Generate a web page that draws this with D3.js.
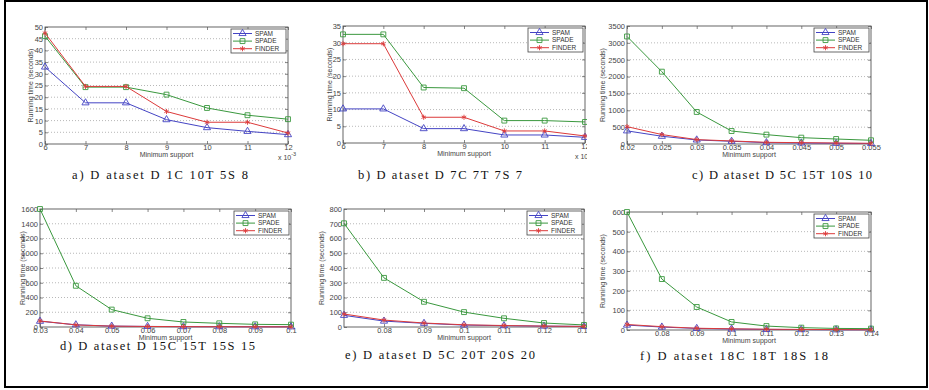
<!DOCTYPE html>
<html>
<head>
<meta charset="utf-8">
<script src="https://cdn.jsdelivr.net/npm/d3@7"></script>
<style>
  html, body { margin: 0; padding: 0; background: #fff; }
  svg { display: block; }
</style>
</head>
<body>
<svg id="fig" width="929" height="390"></svg>
<script>
// ---- Series: running time (seconds) per minimum support ----
// a) D1C10T5S8, support in units of 1e-3
const supportA = [6, 7, 8, 9, 10, 11, 12];
const spamA    = [32.9, 17.6, 17.6, 10.4, 7.0, 5.4, 4.0];
const spadeA   = [46.1, 24.3, 24.3, 21.1, 15.4, 12.3, 10.6];
const finderA  = [47.4, 24.6, 24.6, 13.9, 9.3, 9.3, 4.7];

// b) D7C7T7S7, support in units of 1e-3
const supportB = [6, 7, 8, 9, 10, 11, 12];
const spamB    = [10.2, 10.2, 4.3, 4.3, 2.4, 2.4, 1.7];
const spadeB   = [32.5, 32.5, 16.6, 16.4, 6.7, 6.7, 6.3];
const finderB  = [29.7, 29.7, 7.7, 7.7, 3.6, 3.6, 2.1];

// c) D5C15T10S10
const supportC = [0.02, 0.025, 0.03, 0.035, 0.04, 0.045, 0.05, 0.055];
const spamC    = [390, 230, 120, 80, 40, 30, 20, 15];
const spadeC   = [3190, 2145, 950, 385, 278, 188, 148, 110];
const finderC  = [515, 280, 130, 90, 50, 40, 30, 20];

// d) D15C15T15S15
const supportD = [0.03, 0.04, 0.05, 0.06, 0.07, 0.08, 0.09, 0.1];
const spamD    = [78, 30, 12, 8, 5, 4, 3, 3];
const spadeD   = [1600, 559, 236, 118, 68, 50, 36, 32];
const finderD  = [82, 28, 12, 7, 5, 4, 3, 2];

// e) D5C20T20S20
const supportE = [0.07, 0.08, 0.09, 0.1, 0.11, 0.12, 0.13];
const spamE    = [79, 40, 25, 13, 9, 6, 4];
const spadeE   = [703, 333, 171, 101, 59, 27, 14];
const finderE  = [88, 47, 27, 15, 10, 6, 4];

// f) 18C18T18S18
const supportF = [0.07, 0.08, 0.09, 0.1, 0.11, 0.12, 0.13, 0.14];
const spamF    = [25, 15, 8, 5, 3, 2, 1, 1];
const spadeF   = [600, 259, 117, 41, 20, 12, 8, 7];
const finderF  = [28, 17, 9, 6, 4, 3, 2, 1];

// ---- Tick labels ----
const xLabelsA = ["6", "7", "8", "9", "10", "11", "12"];
const yLabelsA = ["0", "5", "10", "15", "20", "25", "30", "35", "40", "45", "50"];
const xLabelsB = ["6", "7", "8", "9", "10", "11", "12"];
const yLabelsB = ["0", "5", "10", "15", "20", "25", "30", "35"];
const xLabelsC = ["0.02", "0.025", "0.03", "0.035", "0.04", "0.045", "0.05", "0.055"];
const yLabelsC = ["0", "500", "1000", "1500", "2000", "2500", "3000", "3500"];
const xLabelsD = ["0.03", "0.04", "0.05", "0.06", "0.07", "0.08", "0.09", "0.1"];
const yLabelsD = ["0", "200", "400", "600", "800", "1000", "1200", "1400", "1600"];
const xLabelsE = ["0.08", "0.09", "0.1", "0.11", "0.12", "0.13"];
const yLabelsE = ["0", "100", "200", "300", "400", "500", "600", "700", "800"];
const xLabelsF = ["0.08", "0.09", "0.1", "0.11", "0.12", "0.13", "0.14"];
const yLabelsF = ["0", "100", "200", "300", "400", "500", "600"];

const seriesNames = ["SPAM", "SPADE", "FINDER"];
const captions = [
  "a) D ataset D 1C 10T 5S 8",
  "b) D ataset D 7C 7T 7S 7",
  "c) D ataset D 5C 15T 10S 10",
  "d) D ataset D 15C 15T 15S 15",
  "e) D ataset D 5C 20T 20S 20",
  "f) D ataset 18C 18T 18S 18"
];

// ---- Styling & layout ----
const colors = { SPAM: "#4444c4", SPADE: "#3a983e", FINDER: "#dc3a3a" };
const symbols = { SPAM: d3.symbolTriangle, SPADE: d3.symbolSquare, FINDER: d3.symbolAsterisk };
const symSize = { SPAM: 22, SPADE: 24, FINDER: 18 };

const panels = [
  { xs: supportA, ys: [spamA, spadeA, finderA], xDom: [6, 12], xl: xLabelsA, yl: yLabelsA,
    box: { l: 45, r: 288, t: 27, b: 144 }, clip: [7, 2, 310, 186], exp: true,
    cap: { x0: 72, x1: 248, y: 179 }, ytx: 31 },
  { xs: supportB, ys: [spamB, spadeB, finderB], xDom: [6, 12], xl: xLabelsB, yl: yLabelsB,
    box: { l: 343, r: 585, t: 26, b: 143 }, clip: [312, 2, 275, 186], exp: true,
    cap: { x0: 358, x1: 522, y: 179 }, ytx: 330 },
  { xs: supportC, ys: [spamC, spadeC, finderC], xDom: [0.02, 0.055], xl: xLabelsC, yl: yLabelsC,
    box: { l: 627, r: 871, t: 26, b: 144 }, clip: [590, 2, 336, 186], exp: false,
    cap: { x0: 692, x1: 872, y: 179 }, ytx: 603 },
  { xs: supportD, ys: [spamD, spadeD, finderD], xDom: [0.03, 0.1], xl: xLabelsD, yl: yLabelsD,
    box: { l: 40, r: 291, t: 209, b: 327 }, clip: [7, 188, 303, 198], exp: false,
    cap: { x0: 60, x1: 255, y: 350 }, ytx: 23 },
  { xs: supportE, ys: [spamE, spadeE, finderE], xDom: [0.07, 0.13], xl: xLabelsE, yl: yLabelsE,
    box: { l: 344, r: 584, t: 209, b: 327 }, clip: [310, 188, 277, 198], exp: false,
    cap: { x0: 345, x1: 535, y: 359 }, ytx: 322 },
  { xs: supportF, ys: [spamF, spadeF, finderF], xDom: [0.07, 0.14], xl: xLabelsF, yl: yLabelsF,
    box: { l: 627, r: 871, t: 212, b: 330 }, clip: [590, 188, 336, 198], exp: false,
    cap: { x0: 640, x1: 828, y: 360 }, ytx: 603 }
];

const svg = d3.select("#fig");
const defs = svg.append("defs");
svg.append("rect").attr("width", 929).attr("height", 390).attr("fill", "#fff");

const tickFont = "'Liberation Sans', Arial, sans-serif";
const axisColor = "#555";
const labelColor = "#444";

panels.forEach((p, i) => {
  const clipId = "clip" + i;
  defs.append("clipPath").attr("id", clipId)
    .append("rect").attr("x", p.clip[0]).attr("y", p.clip[1])
    .attr("width", p.clip[2]).attr("height", p.clip[3]);

  const g = svg.append("g").attr("clip-path", `url(#${clipId})`);
  const { l, r, t, b } = p.box;
  const yVals = p.yl.map(Number);
  const xVals = p.xl.map(Number);
  const x = d3.scaleLinear().domain(p.xDom).range([l, r]);
  const y = d3.scaleLinear().domain([0, d3.max(yVals)]).range([b, t]);

  // dotted horizontal grid
  g.append("g").selectAll("line").data(yVals.slice(1, -1)).join("line")
    .attr("x1", l).attr("x2", r)
    .attr("y1", d => y(d)).attr("y2", d => y(d))
    .attr("stroke", "#9a9a9a").attr("stroke-width", 0.7)
    .attr("stroke-dasharray", "1,2");

  // axes with inward ticks on all four sides
  const styleAxis = sel => {
    sel.select(".domain").remove();
    sel.selectAll(".tick line").attr("stroke", axisColor).attr("stroke-width", 0.7);
    sel.selectAll(".tick text").attr("fill", labelColor)
      .style("font-family", tickFont).style("font-size", "7.5px");
  };
  g.append("g").attr("transform", `translate(0,${b})`)
    .call(d3.axisBottom(x).tickValues(xVals).tickFormat((d, k) => p.xl[k])
      .tickSizeInner(-3).tickSizeOuter(0).tickPadding(1))
    .call(styleAxis);
  g.append("g").attr("transform", `translate(0,${t})`)
    .call(d3.axisTop(x).tickValues(xVals).tickFormat("").tickSizeInner(-3).tickSizeOuter(0))
    .call(styleAxis);
  g.append("g").attr("transform", `translate(${l},0)`)
    .call(d3.axisLeft(y).tickValues(yVals).tickFormat((d, k) => p.yl[k])
      .tickSizeInner(-3).tickSizeOuter(0).tickPadding(2))
    .call(styleAxis);
  g.append("g").attr("transform", `translate(${r},0)`)
    .call(d3.axisRight(y).tickValues(yVals).tickFormat("").tickSizeInner(-3).tickSizeOuter(0))
    .call(styleAxis);

  g.append("rect").attr("x", l).attr("y", t).attr("width", r - l).attr("height", b - t)
    .attr("fill", "none").attr("stroke", axisColor).attr("stroke-width", 0.9);

  // axis titles
  g.append("text").attr("x", (l + r) / 2).attr("y", b + 12.5)
    .attr("text-anchor", "middle").attr("fill", labelColor)
    .style("font-family", tickFont).style("font-size", "7px")
    .text("Minimum support");
  g.append("text")
    .attr("transform", `translate(${p.ytx},${(t + b) / 2}) rotate(-90)`)
    .attr("text-anchor", "middle").attr("dy", "0.35em").attr("fill", labelColor)
    .style("font-family", tickFont).style("font-size", "7px")
    .text("Running time (seconds)");

  if (p.exp) {
    const e = g.append("text").attr("x", r - 10).attr("y", b + 16)
      .attr("fill", labelColor).style("font-family", tickFont).style("font-size", "7px");
    e.append("tspan").text("x 10");
    e.append("tspan").attr("dy", -4).style("font-size", "5.5px").text("-3");
  }

  // series lines and markers
  seriesNames.forEach((name, s) => {
    const pts = p.xs.map((xv, k) => [xv, p.ys[s][k]]);
    g.append("path").datum(pts)
      .attr("d", d3.line().x(d => x(d[0])).y(d => y(d[1])))
      .attr("fill", "none").attr("stroke", colors[name]).attr("stroke-width", 1);
    g.append("g").selectAll("path").data(pts).join("path")
      .attr("transform", d => `translate(${x(d[0])},${y(d[1])})`)
      .attr("d", d3.symbol().type(symbols[name]).size(symSize[name]))
      .attr("fill", "none").attr("stroke", colors[name]).attr("stroke-width", 0.9);
  });

  // legend
  const lw = 55, lh = 24;
  const lx = r - 2 - lw, ly = t + 2;
  const lg = g.append("g").attr("transform", `translate(${lx},${ly})`);
  lg.append("rect").attr("width", lw).attr("height", lh)
    .attr("fill", "#fff").attr("stroke", "#444").attr("stroke-width", 0.8);
  seriesNames.forEach((name, s) => {
    const ry = 4.5 + s * 7.6;
    lg.append("line").attr("x1", 2).attr("x2", 21).attr("y1", ry).attr("y2", ry)
      .attr("stroke", colors[name]).attr("stroke-width", 1);
    lg.append("path").attr("transform", `translate(11.5,${ry})`)
      .attr("d", d3.symbol().type(symbols[name]).size(symSize[name]))
      .attr("fill", "none").attr("stroke", colors[name]).attr("stroke-width", 0.9);
    lg.append("text").attr("x", 24).attr("y", ry).attr("dy", "0.35em")
      .attr("fill", "#333").style("font-family", tickFont).style("font-size", "6.5px")
      .text(name);
  });

  // caption
  svg.append("text").attr("x", p.cap.x0).attr("y", p.cap.y)
    .attr("textLength", p.cap.x1 - p.cap.x0).attr("lengthAdjust", "spacing")
    .attr("fill", "#111")
    .style("font-family", "'Liberation Serif', 'Times New Roman', serif")
    .style("font-size", "12.5px")
    .text(captions[i]);
});

// outer frame
svg.append("rect").attr("x", 5).attr("y", 1).attr("width", 922).attr("height", 386)
  .attr("fill", "none").attr("stroke", "#000").attr("stroke-width", 2);
</script>
</body>
</html>
